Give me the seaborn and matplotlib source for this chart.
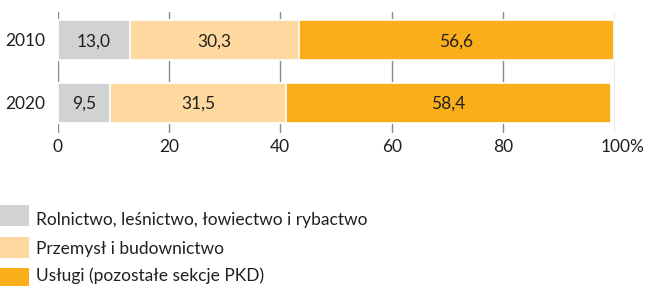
import matplotlib
matplotlib.use("Agg")
import matplotlib.pyplot as plt
import matplotlib.transforms as mtransforms
from matplotlib.patches import Rectangle
import seaborn as sns
import pandas as pd
import numpy as np

years = ["2010", "2020"]
sectors = ["Rolnictwo, leśnictwo, łowiectwo i rybactwo",
           "Przemysł i budownictwo",
           "Usługi (pozostałe sekcje PKD)"]
values = {
    sectors[0]: [13.0, 9.5],
    sectors[1]: [30.3, 31.5],
    sectors[2]: [56.6, 58.4],
}
colors = ["#D1D2D4", "#FDD9A0", "#F9AE1A"]
xticks = [0, 20, 40, 60, 80, 100]
xticklabels = ["0", "20", "40", "60", "80", "100%"]

sns.set_theme(style="white")
plt.rcParams["font.family"] = ["Lato", "DejaVu Sans"]
text_color = "#231F20"
FS = 12.5

fig = plt.figure(figsize=(6.46, 2.86), dpi=100)
W, H = 646, 286
ax = fig.add_axes([57.5 / W, 1 - 133 / H, (614.5 - 57.5) / W, (133 - 12) / H])

vals = np.array([values[s] for s in sectors])  # shape (3, 2)
cum = np.cumsum(vals, axis=0)

# draw cumulative bars from the longest to shortest
for i in reversed(range(len(sectors))):
    df = pd.DataFrame({"year": years, "val": cum[i]})
    sns.barplot(data=df, x="val", y="year", order=years, orient="h",
                color=colors[i], saturation=1, width=0.64,
                edgecolor="white", linewidth=1.2, ax=ax, zorder=3)

for i in range(len(sectors)):
    for j, y in enumerate(years):
        start = cum[i, j] - vals[i, j]
        ax.text(start + vals[i, j] / 2, j, f"{vals[i, j]:.1f}".replace(".", ","),
                ha="center", va="center_baseline", fontsize=FS, color=text_color, zorder=5)

ax.set_xlim(0, 100)
ax.set_ylim(1.488, -0.448)
ax.set_xticks(xticks)
ax.set_xticklabels(xticklabels)
ax.xaxis.grid(True, color="#8A8A8A", linewidth=1.0, zorder=0)
ax.set_axisbelow(True)
for s in ax.spines.values():
    s.set_visible(False)
ax.tick_params(axis="both", length=0, labelsize=FS, colors=text_color)
ax.tick_params(axis="x", pad=4.5)
ax.tick_params(axis="y", pad=9)
ax.set_xlabel("")
ax.set_ylabel("")

# shift "100%" so that "100" is centred on the tick
lbl = ax.get_xticklabels()[-1]
lbl.set_transform(lbl.get_transform() + mtransforms.ScaledTranslation(8 / 100, 0, fig.dpi_scale_trans))

# legend drawn as a simple key
patch_tops = [205, 237, 268]
text_baselines = [224.5, 254, 281]
for lab, col, top, base in zip(sectors, colors, patch_tops, text_baselines):
    fig.add_artist(Rectangle((0, 1 - (top + 21) / H), 29 / W, 21 / H,
                             transform=fig.transFigure, facecolor=col, edgecolor="none"))
    fig.text(36 / W, 1 - base / H, lab, ha="left", va="baseline",
             fontsize=FS, color=text_color)

fig.savefig("out.png", dpi=100)
